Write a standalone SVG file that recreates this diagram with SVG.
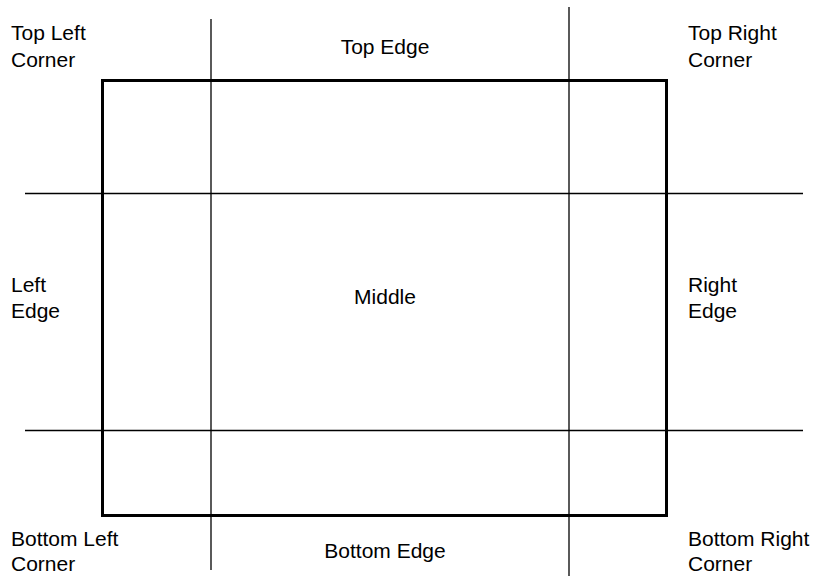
<svg xmlns="http://www.w3.org/2000/svg" width="814" height="576" viewBox="0 0 814 576">
<style>
.lbl{font-family:"Liberation Sans",Arial,sans-serif;font-size:21px;fill:#000}
.ln{stroke:#000;stroke-width:1.3;fill:none}
.box{stroke:#000;stroke-width:3;fill:none}
</style>
<rect width="814" height="576" fill="#fff"/>
<g id="connectors">
<line class="ln" x1="211" y1="19" x2="211" y2="570"/>
<line class="ln" x1="569" y1="7" x2="569" y2="576"/>
<line class="ln" x1="25" y1="193.5" x2="803" y2="193.5"/>
<line class="ln" x1="25" y1="430.5" x2="803" y2="430.5"/>
</g>
<g id="frame">
<rect class="box" x="102.5" y="80.5" width="564" height="435"/>
</g>
<g id="top-left"><text class="lbl" x="11" y="40">Top Left</text><text class="lbl" x="11" y="67">Corner</text></g>
<g id="top-edge"><text class="lbl" x="385" y="54" text-anchor="middle">Top Edge</text></g>
<g id="top-right"><text class="lbl" x="688" y="40">Top Right</text><text class="lbl" x="688" y="67">Corner</text></g>
<g id="left-edge"><text class="lbl" x="11" y="292">Left</text><text class="lbl" x="11" y="318">Edge</text></g>
<g id="middle"><text class="lbl" x="385" y="304" text-anchor="middle">Middle</text></g>
<g id="right-edge"><text class="lbl" x="688" y="292">Right</text><text class="lbl" x="688" y="318">Edge</text></g>
<g id="bottom-left"><text class="lbl" x="11" y="546">Bottom Left</text><text class="lbl" x="11" y="571">Corner</text></g>
<g id="bottom-edge"><text class="lbl" x="385" y="558" text-anchor="middle">Bottom Edge</text></g>
<g id="bottom-right"><text class="lbl" x="688" y="546">Bottom Right</text><text class="lbl" x="688" y="571">Corner</text></g>
</svg>
